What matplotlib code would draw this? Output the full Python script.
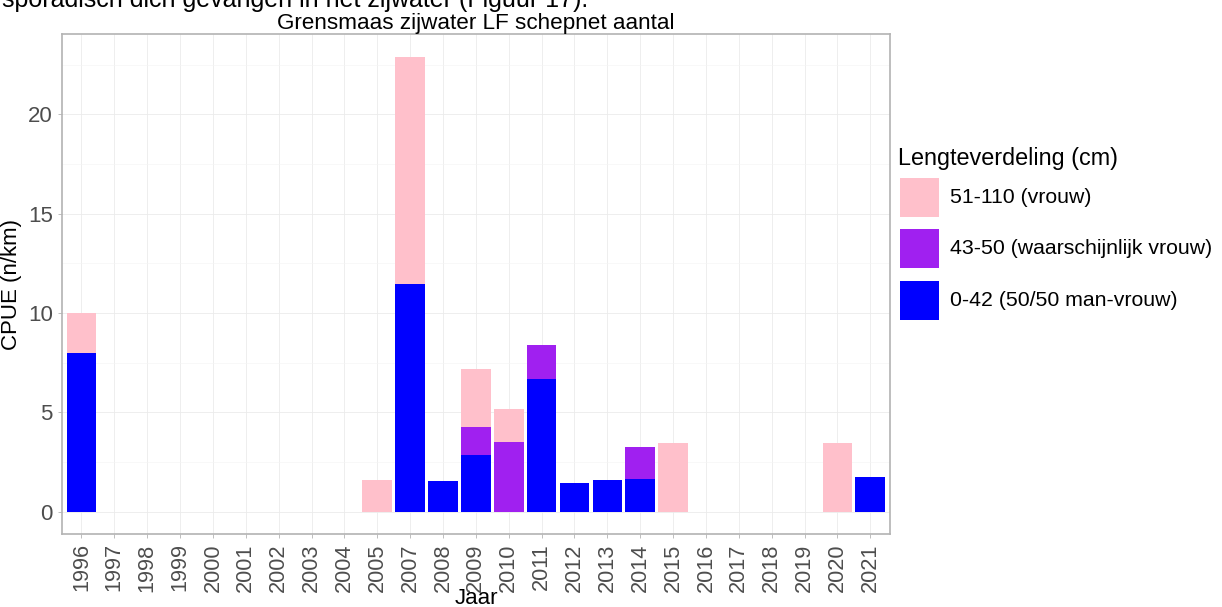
import matplotlib
matplotlib.use('Agg')
import matplotlib.pyplot as plt
from matplotlib.patches import Rectangle
import numpy as np

plt.rcParams['font.family'] = ['Liberation Sans', 'DejaVu Sans']

years = ['1996', '1997', '1998', '1999', '2000', '2001', '2002', '2003', '2004', '2005',
         '2007', '2008', '2009', '2010', '2011', '2012', '2013', '2014', '2015', '2016',
         '2017', '2018', '2019', '2020', '2021']
# CPUE per length class (n/km)
small = [8.0, 0, 0, 0, 0, 0, 0, 0, 0, 0,
         11.46, 1.56, 2.85, 0, 6.66, 1.43, 1.61, 1.63, 0, 0,
         0, 0, 0, 0, 1.76]
middle = [0, 0, 0, 0, 0, 0, 0, 0, 0, 0,
          0, 0, 1.43, 3.49, 1.71, 0, 0, 1.61, 0, 0,
          0, 0, 0, 0, 0]
large = [2.0, 0, 0, 0, 0, 0, 0, 0, 0, 1.58,
         11.43, 0, 2.88, 1.68, 0, 0, 0, 0, 3.44, 0,
         0, 0, 0, 3.44, 0]
labels = ['51-110 (vrouw)', '43-50 (waarschijnlijk vrouw)', '0-42 (50/50 man-vrouw)']
colors = ['#FFC0CB', '#A020F0', '#0000FF']

W, H = 1222, 607
fig = plt.figure(figsize=(W / 100, H / 100), dpi=100)
ax = fig.add_axes([61.7 / W, 1 - 534.3 / H, (890 - 61.7) / W, (534.3 - 34.3) / H])

x = np.arange(len(years))
small = np.array(small)
middle = np.array(middle)
large = np.array(large)
ax.bar(x, small, width=0.9, color=colors[2], zorder=3)
ax.bar(x, middle, width=0.9, bottom=small, color=colors[1], zorder=3)
ax.bar(x, large, width=0.9, bottom=small + middle, color=colors[0], zorder=3)

top = (small + middle + large).max()
ax.set_xlim(-0.6, len(years) - 0.4)
ax.set_ylim(-0.05 * top, top * 1.05)
ax.set_xticks(x)
ax.set_xticklabels(years, rotation=90, fontsize=15.7, color='#4D4D4D')
ax.set_yticks([0, 5, 10, 15, 20])
ax.set_yticks([2.5, 7.5, 12.5, 17.5, 22.5], minor=True)
ax.tick_params(axis='y', labelsize=16, labelcolor='#4D4D4D')
ax.tick_params(which='both', length=3, color='#B3B3B3', width=0.6)
ax.tick_params(which='minor', length=0)
ax.grid(which='major', color='#EBEBEB', linewidth=0.6, zorder=0)
ax.grid(which='minor', axis='y', color='#F4F4F4', linewidth=0.4, zorder=0)
for s in ax.spines.values():
    s.set_color('#B3B3B3')
    s.set_linewidth(1.2)
ax.set_axisbelow(True)

ax.set_ylabel('CPUE (n/km)', fontsize=16, labelpad=4)
ax.set_xlabel('Jaar', fontsize=16, va='baseline')
ax.xaxis.set_label_coords(476 / W, 1 - 604 / H, transform=fig.transFigure)
ax.set_title('Grensmaas zijwater LF schepnet aantal', fontsize=16.2, pad=4)

# legend drawn by hand to match the key sizes
fig.text(898 / W, 1 - 165 / H, 'Lengteverdeling (cm)', fontsize=16.8, va='baseline')
key_tops = [178, 229, 281]
for ktop, lab, col in zip(key_tops, labels, colors):
    fig.add_artist(Rectangle((900 / W, 1 - (ktop + 39) / H), 39 / W, 39 / H,
                             transform=fig.transFigure, facecolor=col, edgecolor='none'))
    fig.text(950 / W, 1 - (ktop + 19.5) / H, lab, fontsize=15.3, va='center')

# line of document text cut off above the figure
fig.text(2 / W, 1 - 7 / H, 'sporadisch dich gevangen in het zijwater (Figuur 17).',
         fontsize=18, va='baseline')

fig.savefig('out.png', dpi=100)
